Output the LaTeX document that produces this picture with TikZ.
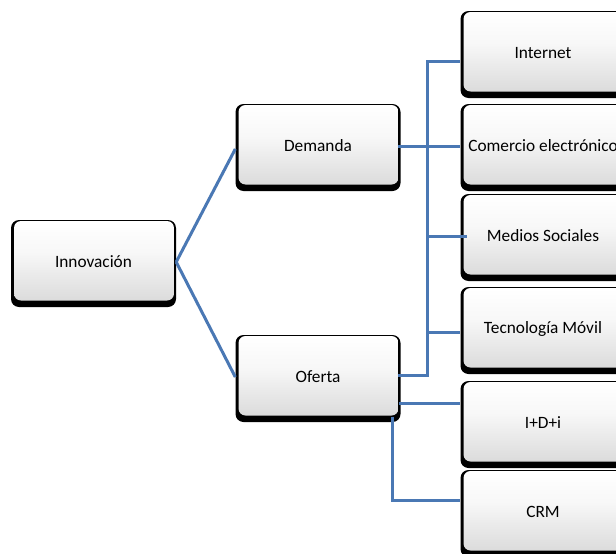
\documentclass[tikz,border=0pt]{standalone}
\usepackage{fontspec}
\setmainfont{Carlito}
\definecolor{linkblue}{RGB}{74,120,180}
\pgfdeclareverticalshading{boxface}{100bp}{color(0bp)=(black!30); color(25bp)=(black!14); color(55bp)=(black!3); color(75bp)=(white); color(100bp)=(white)}
\tikzset{
  boxlabel/.style={minimum width=165pt, minimum height=87pt, inner sep=0pt,
    font=\fontsize{17.3}{20}\selectfont},
  conn/.style={draw=linkblue, line width=3pt},
}
% \gbox{name}{x}{y}{text}: node centred on its text, box drawn around
\newcommand{\gbox}[4]{%
  \fill[black, rounded corners=8pt] (#2-82.5,#3-42) rectangle (#2+82.5,#3+45);
  \shade[shading=boxface, rounded corners=7pt] (#2-79.5,#3-41) rectangle (#2+80.5,#3+38.5);
  \node[boxlabel] (#1) at (#2,#3) {#4};
}
\begin{document}
\begin{tikzpicture}[x=1pt, y=-1pt]
\useasboundingbox (0,0) rectangle (616,554);
\clip (0,0) rectangle (616,554);
\fill[white] (0,0) rectangle (616,554);

\gbox{inn}{93.5}{262}{Innovación}
\gbox{dem}{318}{146}{Demanda}
\gbox{ofe}{318}{377}{Oferta}
\gbox{int}{543}{53}{Internet}
\gbox{com}{543}{146}{Comercio electrónico}
\gbox{med}{543}{236}{Medios Sociales}
\gbox{tec}{543}{329}{Tecnología Móvil}
\gbox{idi}{543}{423}{I+D+i}
\gbox{crm}{543}{512}{CRM}

\coordinate (trunk) at (427,0);
\coordinate (intin) at ([yshift=-8pt]int.west);
\coordinate (tecin) at ([yshift=-3pt]tec.west);
\coordinate (o2) at (399,403);

\draw[conn] (inn.east) -- ([yshift=-3pt]dem.west);
\draw[conn] (inn.east) -- (ofe.west);
\draw[conn] ([xshift=-3pt]dem.east) -- (com.west);
\draw[conn] ([xshift=-3pt,yshift=2pt]ofe.east) -| (trunk |- intin) -- (intin);
\draw[conn] (trunk |- med.west) -- ([xshift=7pt]med.west);
\draw[conn] (trunk |- tecin) -- (tecin);
\draw[conn] (o2) -- (idi.west |- o2);
\draw[conn] ([xshift=74pt,yshift=4pt]ofe.south) |- ([yshift=12pt]crm.west);
\end{tikzpicture}
\end{document}
